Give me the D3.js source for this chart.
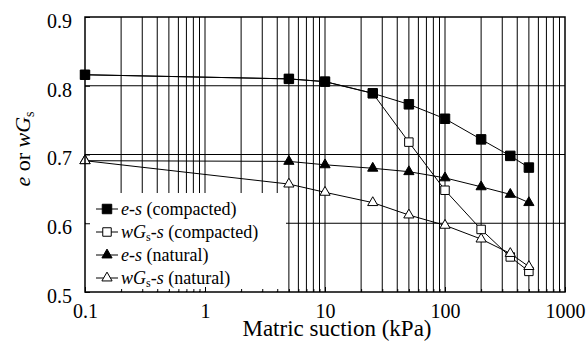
<!DOCTYPE html>
<html>
<head>
<meta charset="utf-8">
<script src="https://cdn.jsdelivr.net/npm/d3@7"></script>
<style>
    body { margin: 0; background: #fff; }
</style>
</head>
<body>
<div id="container"></div>
<script>
// matric suction (kPa) and the four measured curves
const suction = [0.1, 5, 10, 25, 50, 100, 200, 350, 500]
const eCompacted = [0.816, 0.810, 0.806, 0.789, 0.773, 0.752, 0.722, 0.698, 0.681]
const wgsCompacted = [0.816, 0.810, 0.806, 0.789, 0.718, 0.648, 0.591, 0.551, 0.530]
const eNatural = [0.691, 0.690, 0.685, 0.680, 0.675, 0.666, 0.653, 0.642, 0.630]
const wgsNatural = [0.691, 0.657, 0.645, 0.630, 0.612, 0.597, 0.577, 0.556, 0.537]
const xTicks = [0.1, 1, 10, 100, 1000]
const yTicks = [0.5, 0.6, 0.7, 0.8, 0.9]

const w = 587
const h = 344
const margin = { left: 85, right: 22, top: 17, bottom: 52 }
const serif = "Liberation Serif"

const svg = d3.select("#container")
    .append("svg")
    .attr("width", w)
    .attr("height", h)
    .attr("font-family", serif)
    .style("display", "block")

const xScale = d3.scaleLog()
    .domain([0.1, 1000])
    .range([margin.left, w - margin.right])
const yScale = d3.scaleLinear()
    .domain([0.5, 0.9])
    .range([h - margin.bottom, margin.top])

// every 1..9 multiple in each decade gets a grid line
const minorX = []
for (let d = 0.1; d < 1000; d *= 10) {
    for (let k = 2; k <= 9; k++) minorX.push(+(d * k).toPrecision(3))
}
const gridX = minorX.concat([1, 10, 100])

svg.append("g")
    .selectAll("line")
    .data(gridX)
    .join("line")
    .attr("x1", (d) => xScale(d))
    .attr("x2", (d) => xScale(d))
    .attr("y1", yScale(0.5))
    .attr("y2", yScale(0.9))
    .attr("stroke", "#000")
    .attr("stroke-width", 1)
svg.append("g")
    .selectAll("line")
    .data([0.6, 0.7, 0.8])
    .join("line")
    .attr("x1", xScale(0.1))
    .attr("x2", xScale(1000))
    .attr("y1", (d) => yScale(d))
    .attr("y2", (d) => yScale(d))
    .attr("stroke", "#000")
    .attr("stroke-width", 1)

const series = [
    { name: "wGs-s (compacted)", values: wgsCompacted, shape: d3.symbolSquare, size: 72, fill: "#fff" },
    { name: "e-s (compacted)", values: eCompacted, shape: d3.symbolSquare, size: 90, fill: "#000" },
    { name: "e-s (natural)", values: eNatural, shape: d3.symbolTriangle, size: 45, fill: "#000" },
    { name: "wGs-s (natural)", values: wgsNatural, shape: d3.symbolTriangle, size: 45, fill: "#fff" }
]

const line = d3.line()
    .x((d) => xScale(d[0]))
    .y((d) => yScale(d[1]))

series.forEach((s) => {
    const pts = suction.map((x, i) => [x, s.values[i]])
    svg.append("path")
        .attr("d", line(pts))
        .attr("fill", "none")
        .attr("stroke", "#000")
        .attr("stroke-width", 1)
    svg.append("g")
        .selectAll("path")
        .data(pts)
        .join("path")
        .attr("d", d3.symbol(s.shape, s.size))
        .attr("transform", (d) => `translate(${xScale(d[0])},${yScale(d[1])})`)
        .attr("fill", s.fill)
        .attr("stroke", "#000")
        .attr("stroke-width", 1)
})

// legend sits on a white box over the grid
const legend = svg.append("g")
legend.append("rect")
    .attr("x", xScale(0.1) + 1)
    .attr("y", 193)
    .attr("width", 200)
    .attr("height", yScale(0.5) - 193 - 1)
    .attr("fill", "#fff")

const legendOrder = [series[1], series[0], series[2], series[3]]
const rowY = (i) => 209 + i * 23
legendOrder.forEach((s, i) => {
    const y = rowY(i)
    legend.append("line")
        .attr("x1", 96).attr("x2", 118)
        .attr("y1", y).attr("y2", y)
        .attr("stroke", "#000")
    legend.append("path")
        .attr("d", d3.symbol(s.shape, s.size))
        .attr("transform", `translate(107,${y})`)
        .attr("fill", s.fill)
        .attr("stroke", "#000")
    const t = legend.append("text")
        .attr("x", 121)
        .attr("y", y + 6)
        .attr("font-size", 18)
    if (s.name.startsWith("wGs")) {
        t.append("tspan").text("wG").attr("font-style", "italic")
        t.append("tspan").text("s").attr("font-size", 12).attr("dy", 3)
        t.append("tspan").text("-s").attr("font-style", "italic").attr("dy", -3)
    } else {
        t.append("tspan").text("e-s").attr("font-style", "italic")
    }
    t.append("tspan").text(s.name.slice(s.name.indexOf(" ")))
})

// axes with inward ticks
const xAxis = d3.axisBottom(xScale)
    .tickValues(xTicks)
    .tickFormat((d) => String(d))
    .tickSize(-5)
    .tickPadding(12)
const xMinor = d3.axisBottom(xScale)
    .tickValues(minorX)
    .tickFormat("")
    .tickSize(-3)
const yAxis = d3.axisLeft(yScale)
    .tickValues(yTicks)
    .tickFormat(d3.format(".1f"))
    .tickSize(-5)
    .tickPadding(13)

const gx = svg.append("g")
    .attr("transform", `translate(0,${yScale(0.5)})`)
    .call(xAxis)
svg.append("g")
    .attr("transform", `translate(0,${yScale(0.5)})`)
    .call(xMinor)
const gy = svg.append("g")
    .attr("transform", `translate(${xScale(0.1)},0)`)
    .call(yAxis)

svg.selectAll(".tick line").attr("stroke", "#000")
svg.selectAll(".domain").remove()
gx.attr("font-family", serif).attr("font-size", 20)
gy.attr("font-family", serif).attr("font-size", 20)
gx.selectAll("text").attr("fill", "#000")
gy.selectAll("text").attr("fill", "#000").attr("dy", "0.72em").attr("y", -4)

// plot frame
svg.append("rect")
    .attr("x", xScale(0.1))
    .attr("y", yScale(0.9))
    .attr("width", xScale(1000) - xScale(0.1))
    .attr("height", yScale(0.5) - yScale(0.9))
    .attr("fill", "none")
    .attr("stroke", "#000")
    .attr("stroke-width", 1.5)

svg.append("text")
    .attr("x", 337)
    .attr("y", 336)
    .attr("text-anchor", "middle")
    .attr("font-size", 23)
    .text("Matric suction (kPa)")

const yt = svg.append("text")
    .attr("transform", "translate(30,149) rotate(-90)")
    .attr("text-anchor", "middle")
    .attr("font-size", 22)
yt.append("tspan").text("e").attr("font-style", "italic")
yt.append("tspan").text(" or ")
yt.append("tspan").text("wG").attr("font-style", "italic")
yt.append("tspan").text("s").attr("font-size", 14).attr("dy", 4)
</script>
</body>
</html>
